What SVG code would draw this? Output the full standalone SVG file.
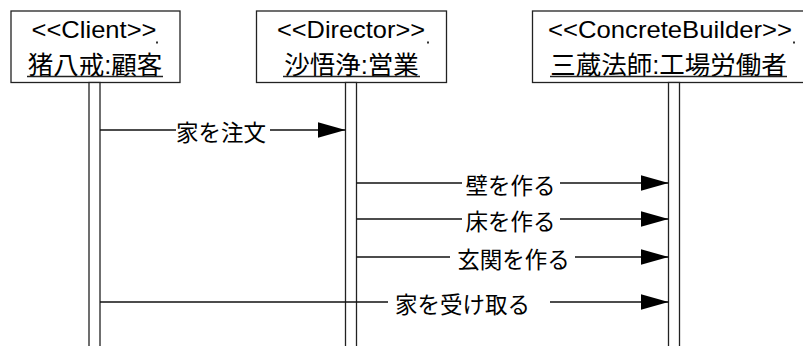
<svg xmlns="http://www.w3.org/2000/svg" width="803" height="346" viewBox="0 0 803 346">
<defs>
<style>
.box{fill:#fff;stroke:#222;stroke-width:1.3}
.life{fill:#fff;stroke:#222;stroke-width:1.3}
.st{font-family:"Liberation Sans",Arial,sans-serif;font-size:24px;fill:#000;text-anchor:middle}
.nm{font-family:"Liberation Sans","Noto Sans CJK JP",sans-serif;font-size:25.5px;fill:#000;text-anchor:middle}
.ul{stroke:#222;stroke-width:1.3}
.msg{stroke:#111;stroke-width:1.3;fill:none;marker-end:url(#ah)}
.lbl{font-family:"Noto Sans CJK JP",sans-serif;font-size:22.5px;fill:#000;text-anchor:middle}
.bg{fill:#fff}
.dot{fill:#333}
</style>
<marker id="ah" markerUnits="userSpaceOnUse" markerWidth="30" markerHeight="18" refX="28" refY="8.5" orient="auto">
<path d="M0,0.5 L28,8.5 L0,16.5 Z" fill="#000"/>
</marker>
</defs>
<rect width="803" height="346" fill="#fff"/>
<g id="client">
<rect class="box" x="11" y="11" width="169" height="71.5"/>
<rect class="life" x="89" y="82.5" width="11" height="270"/>
<text class="st" x="94" y="38" textLength="125" lengthAdjust="spacingAndGlyphs">&lt;&lt;Client&gt;&gt;</text>
<rect class="dot" x="156" y="41.5" width="2" height="2"/>
<text class="nm" x="95" y="73.5">猪八戒:顧客</text>
<line class="ul" x1="27" y1="76.5" x2="163" y2="76.5"/>
</g>
<g id="director">
<rect class="box" x="256.5" y="11" width="190" height="71.5"/>
<rect class="life" x="345.5" y="82.5" width="11" height="270"/>
<text class="st" x="351" y="38" textLength="148" lengthAdjust="spacingAndGlyphs">&lt;&lt;Director&gt;&gt;</text>
<rect class="dot" x="427" y="41.5" width="2" height="2"/>
<text class="nm" x="351.5" y="73.5">沙悟浄:営業</text>
<line class="ul" x1="283" y1="76.5" x2="420" y2="76.5"/>
</g>
<g id="builder">
<rect class="box" x="532.5" y="11" width="272" height="71.5"/>
<rect class="life" x="668.5" y="82.5" width="11" height="270"/>
<text class="st" x="670" y="38" textLength="244" lengthAdjust="spacingAndGlyphs">&lt;&lt;ConcreteBuilder&gt;&gt;</text>
<rect class="dot" x="793" y="41.5" width="2" height="2"/>
<text class="nm" x="668.5" y="73.5">三蔵法師:工場労働者</text>
<line class="ul" x1="550" y1="76.5" x2="787" y2="76.5"/>
</g>
<g id="connectors">
<line class="msg" x1="100" y1="130" x2="345.5" y2="130"/>
<rect class="bg" x="176" y="118" width="94" height="26"/>
<text class="lbl" x="221" y="141">家を注文</text>
<line class="msg" x1="356.5" y1="183" x2="668.5" y2="183"/>
<rect class="bg" x="462" y="171" width="98" height="26"/>
<text class="lbl" x="510.5" y="194">壁を作る</text>
<line class="msg" x1="356.5" y1="219" x2="668.5" y2="219"/>
<rect class="bg" x="462" y="207" width="98" height="26"/>
<text class="lbl" x="510.5" y="230">床を作る</text>
<line class="msg" x1="356.5" y1="257" x2="668.5" y2="257"/>
<rect class="bg" x="450" y="245" width="125" height="26"/>
<text class="lbl" x="513.5" y="268">玄関を作る</text>
<line class="msg" x1="100" y1="302" x2="668.5" y2="302"/>
<rect class="bg" x="388" y="290" width="162" height="26"/>
<text class="lbl" x="462.5" y="313">家を受け取る</text>
</g>
</svg>
